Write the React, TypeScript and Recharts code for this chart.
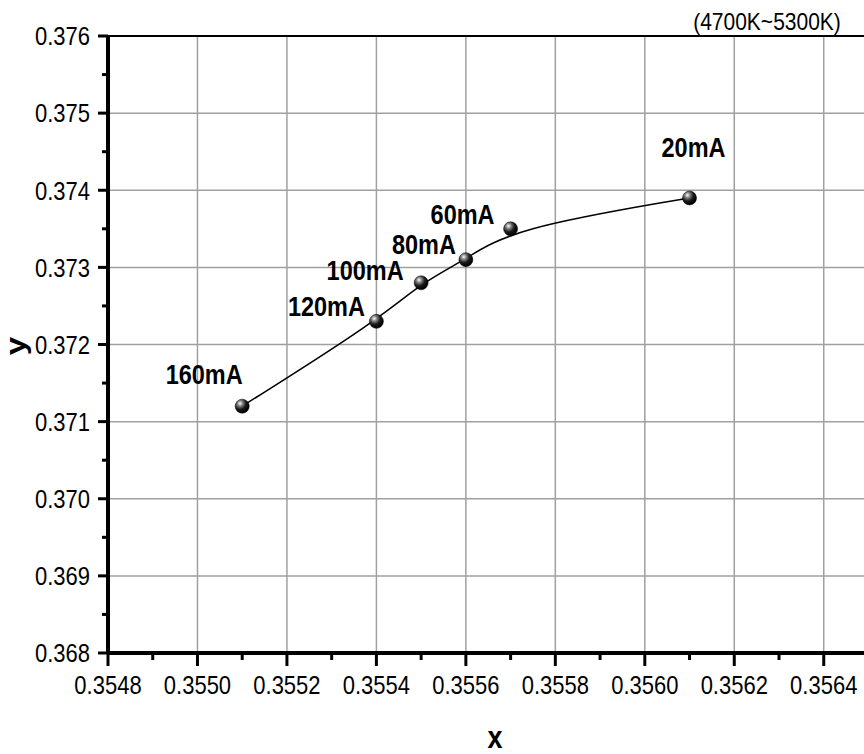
import { LineChart, Line, XAxis, YAxis, ReferenceLine, LabelList } from 'recharts'

// chromaticity coordinates per drive current, ordered by x
const currents = ['160mA', '120mA', '100mA', '80mA', '60mA', '20mA']
const cieX = [0.3551, 0.3554, 0.3555, 0.3556, 0.3557, 0.3561]
const cieY = [0.3712, 0.3723, 0.3728, 0.3731, 0.3735, 0.3739]

const xTicks = [
  0.3548, 0.3549, 0.355, 0.3551, 0.3552, 0.3553, 0.3554, 0.3555, 0.3556,
  0.3557, 0.3558, 0.3559, 0.356, 0.3561, 0.3562, 0.3563, 0.3564,
]
const yTicks = [
  0.368, 0.3685, 0.369, 0.3695, 0.37, 0.3705, 0.371, 0.3715, 0.372,
  0.3725, 0.373, 0.3735, 0.374, 0.3745, 0.375, 0.3755, 0.376,
]
const xGrid = [0.355, 0.3552, 0.3554, 0.3556, 0.3558, 0.356, 0.3562, 0.3564]
const yGrid = [0.369, 0.37, 0.371, 0.372, 0.373, 0.374, 0.375]
const cctRange = '(4700K~5300K)'

const data = currents.map((label, i) => ({ label, x: cieX[i], y: cieY[i] }))

const FONT = '"Liberation Sans", Arial, sans-serif'
const SY = 1.18
// label nudge relative to each marker (center of text)
const labelShift = [[-38, -32], [-50, -15], [-56, -13], [-42, -16], [-48, -15], [4, -51]]

function Txt({ x, y, anchor = 'middle', size, bold, children, dy = '0.36em' }: any) {
  return (
    <text
      transform={`translate(${x},${y}) scale(1,${SY})`}
      textAnchor={anchor}
      dy={dy}
      fontSize={size}
      fontWeight={bold ? 'bold' : 'normal'}
      fontFamily={FONT}
      fill="#000"
    >
      {children}
    </text>
  )
}

function XTick({ x, y, payload }: any) {
  const v = payload.value
  const major = Math.round(v * 10000) % 2 === 0
  return (
    <g>
      <line x1={x} x2={x} y1={y} y2={y + (major ? 13 : 7)} stroke="#000" strokeWidth={3} />
      {major && <Txt x={x} y={y + 32} size={22}>{v.toFixed(4)}</Txt>}
    </g>
  )
}

function YTick({ x, y, payload }: any) {
  const v = payload.value
  const major = Math.round(v * 10000) % 10 === 0
  return (
    <g>
      <line x1={x} x2={x - (major ? 10 : 6)} y1={y} y2={y} stroke="#000" strokeWidth={3} />
      {major && <Txt x={x - 18} y={y} anchor="end" size={22}>{v.toFixed(3)}</Txt>}
    </g>
  )
}

function Ball({ cx, cy }: any) {
  if (cx == null || cy == null) return null
  return <circle cx={cx} cy={cy} r={7} fill="url(#ball)" stroke="#000" strokeWidth={0.5} />
}

function PointLabel({ x, y, index, value }: any) {
  const [dx, dy] = labelShift[index] || [0, -20]
  return <Txt x={x + dx} y={y + dy} size={23.5} bold>{value}</Txt>
}

export default function App() {
  return (
    <div style={{ position: 'absolute', left: 0, top: 0, width: 864, height: 754, background: '#fff', overflow: 'hidden' }}>
      <LineChart width={864} height={754} data={data} margin={{ top: 36, right: 0, bottom: 0, left: 0 }}>
        <defs>
          <radialGradient id="ball" cx="35%" cy="30%" r="70%">
            <stop offset="0%" stopColor="#ffffff" />
            <stop offset="25%" stopColor="#8a8a8a" />
            <stop offset="60%" stopColor="#1a1a1a" />
            <stop offset="100%" stopColor="#000" />
          </radialGradient>
        </defs>
        <XAxis
          dataKey="x"
          type="number"
          domain={[0.3548, 0.35649]}
          allowDataOverflow
          ticks={xTicks}
          interval={0}
          height={101}
          tickSize={0}
          tickMargin={0}
          tick={<XTick />}
          axisLine={{ stroke: '#000', strokeWidth: 4 }}
          tickLine={false}
        />
        <YAxis
          dataKey="y"
          type="number"
          domain={[0.368, 0.376]}
          allowDataOverflow
          ticks={yTicks}
          interval={0}
          width={108}
          tickSize={0}
          tickMargin={0}
          tick={<YTick />}
          axisLine={{ stroke: '#000', strokeWidth: 4 }}
          tickLine={false}
        />
        {xGrid.map(v => (
          <ReferenceLine key={'gx' + v} x={v} stroke="#a0a0a0" strokeWidth={1.5} />
        ))}
        {yGrid.map(v => (
          <ReferenceLine key={'gy' + v} y={v} stroke="#a0a0a0" strokeWidth={1.5} />
        ))}
        <ReferenceLine y={0.376} stroke="#000" strokeWidth={2} />
        <Line
          type="basis"
          dataKey="y"
          stroke="#000"
          strokeWidth={1.5}
          dot={<Ball />}
          activeDot={false}
          isAnimationActive={false}
        >
          <LabelList dataKey="label" content={<PointLabel />} />
        </Line>
        <Txt x={767} y={21} size={21}>{cctRange}</Txt>
        <Txt x={495} y={740} size={27} bold dy="0.26em">x</Txt>
        <text
          transform="translate(25,346) rotate(-90) scale(1.18,1)"
          textAnchor="middle"
          fontSize={28}
          fontWeight="bold"
          fontFamily={FONT}
        >
          y
        </text>
      </LineChart>
    </div>
  )
}
